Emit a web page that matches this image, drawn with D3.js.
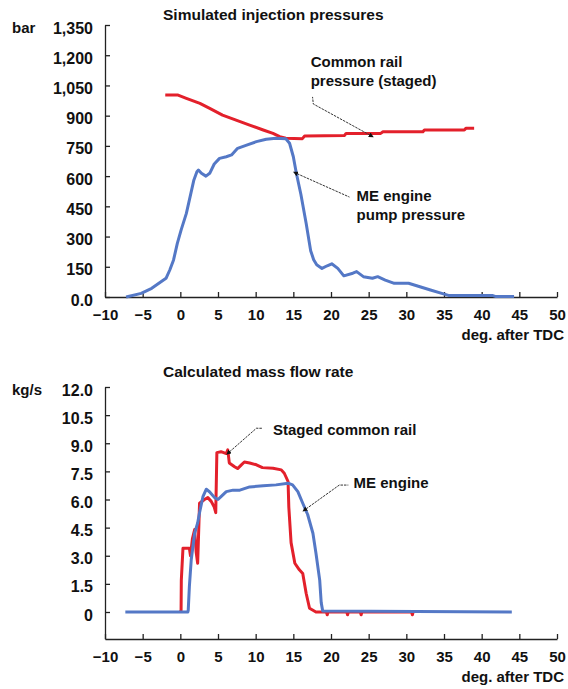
<!DOCTYPE html>
<html>
<head>
<meta charset="utf-8">
<script src="https://cdn.jsdelivr.net/npm/d3@7"></script>
<style>
  body { margin: 0; background: #fff; }
  svg text { font-family: "Liberation Sans", Arial, sans-serif; font-weight: bold; fill: #111; }
</style>
</head>
<body>
<div id="chart"></div>
<script>
// x axis (deg. after TDC), shared by both panels
var degTicks = [-10, -5, 0, 5, 10, 15, 20, 25, 30, 35, 40, 45, 50];

// top panel: injection pressure in bar
var barTicks = [0, 150, 300, 450, 600, 750, 900, 1050, 1200, 1350];

var railPresX = [-2.0, -0.3, 0.8, 2.6, 3.9, 5.6, 7.4, 9.2, 11.0, 12.3, 13.2, 14.0, 16.2, 16.5, 21.8, 22.0, 26.6, 26.9, 32.2, 32.4, 37.7, 37.9, 39.0];
var railPresY = [1003, 1002, 986, 961, 936, 903, 878, 853, 829, 812, 796, 788, 786, 799, 802, 812, 812, 820, 820, 829, 829, 837, 837];

var pumpPresX = [-7.2, -5.2, -3.8, -1.9, -1.4, -0.9, -0.4, 0.1, 0.8, 1.3, 1.8, 2.2, 2.4, 2.8, 3.4, 3.9, 4.5, 5.2, 6.1, 6.8, 7.6, 8.8, 10.1, 11.4, 12.7, 14.0, 14.5, 15.0, 15.4, 16.0, 16.7, 17.3, 17.7, 18.1, 18.8, 19.5, 20.1, 20.9, 21.7, 22.9, 23.4, 24.3, 25.5, 26.2, 27.2, 28.4, 30.3, 31.8, 33.2, 34.7, 35.6, 41.4, 41.9, 44.3];
var pumpPresY = [0, 18, 43, 93, 134, 184, 266, 332, 415, 498, 581, 622, 630, 614, 600, 614, 660, 688, 696, 705, 738, 754, 771, 783, 788, 785, 763, 696, 614, 510, 366, 230, 185, 160, 142, 155, 165, 142, 105, 118, 126, 101, 93, 101, 84, 68, 68, 51, 35, 18, 8, 8, 2, 2];

// bottom panel: mass flow rate in kg/s
var flowTicks = [0, 1.5, 3.0, 4.5, 6.0, 7.5, 9.0, 10.5, 12.0];

var flowRailX = [0.0, 0.1, 0.13, 0.35, 1.2, 1.35, 1.6, 1.9, 2.1, 2.3, 2.45, 2.55, 3.2, 3.65, 4.1, 4.5, 4.7, 4.85, 5.4, 6.1, 6.3, 6.5, 7.2, 7.6, 8.1, 8.5, 9.2, 10.1, 10.9, 12.3, 13.4, 13.8, 14.3, 14.4, 14.7, 15.2, 15.8, 16.25, 16.7, 17.15, 18.0, 19.4, 19.5, 19.6, 22.1, 22.2, 22.3, 23.9, 24.0, 24.1, 30.7, 30.8, 30.9];
var flowRailY = [0, 0.1, 1.7, 3.4, 3.4, 3.0, 3.9, 4.4, 3.2, 2.6, 4.5, 5.8, 6.0, 6.1, 5.9, 5.6, 5.3, 8.5, 8.55, 8.45, 8.65, 7.95, 7.75, 7.65, 7.85, 8.0, 7.95, 7.85, 7.7, 7.67, 7.58, 7.4, 6.96, 5.6, 3.7, 2.6, 2.25, 2.05, 1.0, 0.2, 0, 0, -0.15, 0, 0, -0.15, 0, 0, -0.15, 0, 0, -0.15, 0];

var flowMeX = [-7.3, 1.0, 1.05, 1.2, 1.45, 1.9, 2.3, 2.55, 3.0, 3.45, 3.9, 4.55, 5.0, 5.4, 6.1, 7.0, 7.9, 9.2, 11.0, 12.7, 14.3, 14.9, 15.6, 16.25, 16.9, 17.6, 18.0, 18.5, 18.7, 18.9, 44.0];
var flowMeY = [0, 0, 0.1, 1.35, 2.8, 4.2, 4.75, 5.3, 6.15, 6.55, 6.4, 6.1, 6.0, 6.15, 6.42, 6.5, 6.5, 6.67, 6.73, 6.78, 6.87, 6.78, 6.42, 5.8, 5.2, 4.2, 3.15, 1.7, 0.5, 0.05, 0];

var red = "#e3202b", blue = "#5478c6";

var svg = d3.select("#chart").append("svg")
  .attr("width", 568)
  .attr("height", 689);

// shared x scale
var x = d3.scaleLinear().domain([-10, 50]).range([105, 557]);

// y scales for both panels
var yTop = d3.scaleLinear().domain([0, 1350]).range([297, 25]);
var yBot = d3.scaleLinear().domain([-1.44, 12]).range([639, 387]);

function zip(xs, ys) {
  return xs.map(function(d, i) { return [d, ys[i]]; });
}

function drawAxes(yScale, yTicks, yFormat, unit, title, titleY) {
  var y0 = yScale.range()[0];

  var gx = svg.append("g")
    .attr("transform", "translate(0," + y0 + ")")
    .call(d3.axisBottom(x).tickValues(degTicks).tickSizeInner(-5).tickSizeOuter(0).tickPadding(12));

  var gy = svg.append("g")
    .attr("transform", "translate(" + x.range()[0] + ",0)")
    .call(d3.axisLeft(yScale).tickValues(yTicks).tickFormat(yFormat).tickSizeInner(-5).tickSizeOuter(0).tickPadding(12));

  [gx, gy].forEach(function(g) {
    g.selectAll("path, line").attr("stroke", "#222").attr("stroke-width", 1.3);
    g.selectAll("text").attr("font-size", 15).attr("fill", "#111");
  });
  gy.selectAll("text").attr("font-size", 16).attr("dy", "0.5em");

  // unit next to the top tick
  svg.append("text")
    .attr("x", 12)
    .attr("y", yScale(yTicks[yTicks.length - 1]) + 8)
    .attr("font-size", 15)
    .text(unit);

  // x axis title
  svg.append("text")
    .attr("x", 564)
    .attr("y", y0 + 43)
    .attr("text-anchor", "end")
    .attr("font-size", 15)
    .text("deg. after TDC");

  // panel title
  svg.append("text")
    .attr("x", 163)
    .attr("y", titleY)
    .attr("font-size", 15.5)
    .text(title);
}

drawAxes(yTop, barTicks, function(d) { return d === 0 ? "0.0" : d3.format(",")(d); },
  "bar", "Simulated injection pressures", 20);
drawAxes(yBot, flowTicks, function(d) { return d === 0 ? "0" : d3.format(".1f")(d); },
  "kg/s", "Calculated mass flow rate", 377);

function drawLine(pts, yScale, color) {
  svg.append("path")
    .datum(pts)
    .attr("fill", "none")
    .attr("stroke", color)
    .attr("stroke-width", 3)
    .attr("stroke-linejoin", "round")
    .attr("d", d3.line().x(function(d) { return x(d[0]); }).y(function(d) { return yScale(d[1]); }));
}

drawLine(zip(railPresX, railPresY), yTop, red);
drawLine(zip(pumpPresX, pumpPresY), yTop, blue);
drawLine(zip(flowRailX, flowRailY), yBot, red);
drawLine(zip(flowMeX, flowMeY), yBot, blue);

// annotations: leader points and text anchors in data units
svg.append("defs").append("marker")
  .attr("id", "tip")
  .attr("viewBox", "0 0 10 10")
  .attr("refX", 1).attr("refY", 5)
  .attr("markerWidth", 5).attr("markerHeight", 5)
  .attr("orient", "auto-start-reverse")
  .append("path")
  .attr("d", "M0,0 L10,5 L0,10 z")
  .attr("fill", "#111");

var notes = [
  {y: yTop, leader: [[25.15, 804], [17.65, 958], [17.55, 993]], at: [17.3, 1141], lines: ["Common rail", "pressure (staged)"]},
  {y: yTop, leader: [[15.5, 612], [22.45, 496]], at: [23.4, 476], lines: ["ME engine", "pump pressure"]},
  {y: yBot, leader: [[6.55, 8.55], [10.1, 9.8], [10.9, 9.8]], at: [12.3, 9.45], lines: ["Staged common rail"]},
  {y: yBot, leader: [[16.7, 5.5], [21.1, 6.77], [22.3, 6.77]], at: [23.0, 6.6], lines: ["ME engine"]}
];

notes.forEach(function(n) {
  svg.append("path")
    .datum(n.leader)
    .attr("fill", "none")
    .attr("stroke", "#333")
    .attr("stroke-width", 1)
    .attr("stroke-dasharray", "2.5,1")
    .attr("marker-start", "url(#tip)")
    .attr("d", d3.line().x(function(d) { return x(d[0]); }).y(function(d) { return n.y(d[1]); }));

  var t = svg.append("text")
    .attr("x", x(n.at[0]))
    .attr("y", n.y(n.at[1]))
    .attr("font-size", 15);
  n.lines.forEach(function(s, i) {
    t.append("tspan").attr("x", x(n.at[0])).attr("dy", i === 0 ? 0 : 19).text(s);
  });
});
</script>
</body>
</html>
